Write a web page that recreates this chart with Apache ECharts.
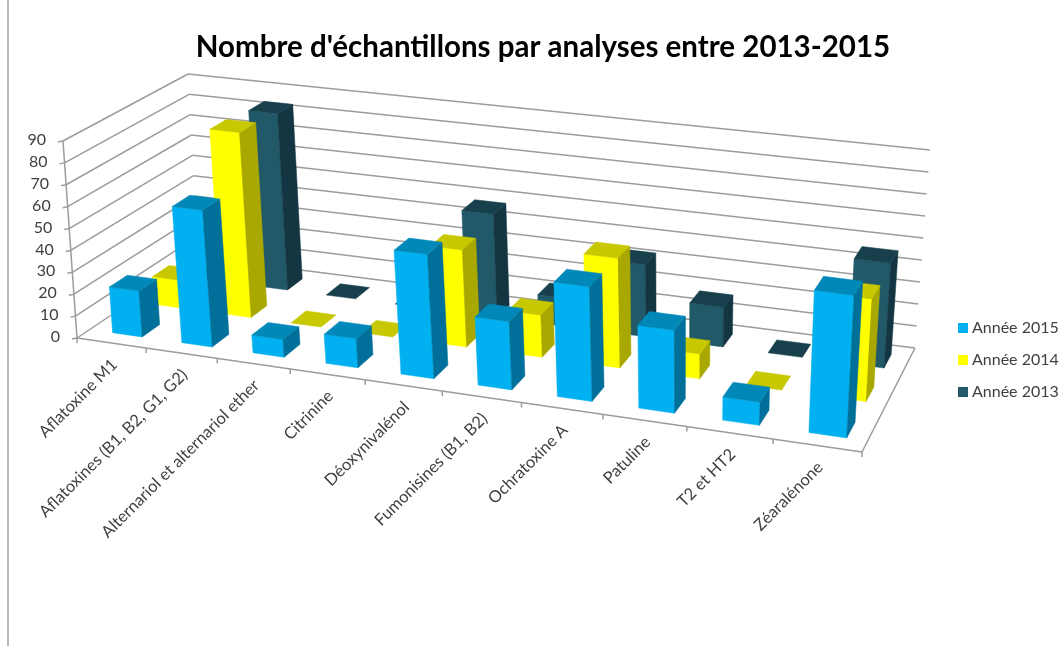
<!DOCTYPE html>
<html>
<head>
<meta charset="utf-8">
<title>Nombre d'échantillons</title>
<script src="https://cdn.jsdelivr.net/npm/echarts@6/dist/echarts.min.js"></script>
<style>
  html, body { margin: 0; padding: 0; background: #fff; }
  #chart { width: 1064px; height: 646px; }
</style>
</head>
<body>
<div id="chart"></div>
<script>
var categories = ['Aflatoxine M1', 'Aflatoxines (B1, B2, G1, G2)', 'Alternariol et alternariol ether', 'Citrinine', 'Déoxynivalénol', 'Fumonisines (B1, B2)', 'Ochratoxine A', 'Patuline', 'T2 et HT2', 'Zéaralénone'];
var annee2015 = [21, 62, 8, 13, 55, 30, 50, 36, 10, 61];
var annee2014 = [13, 86, 0, 0, 44, 19, 49, 11, 0, 45];
var annee2013 = [0, 84, 0, 0, 48, 13, 33, 18, 0, 47];
var yTicks = [0, 10, 20, 30, 40, 50, 60, 70, 80, 90];

var FONT = 'Lato, "Open Sans", sans-serif';
var GRID_COLOR = '#9c9c9c';

// coins de la boite 3D : avant-gauche, avant-droit, arriere-droit, arriere-gauche
var floorQuad = [[77, 338], [862, 452], [915, 348], [198, 257]];
var topQuad = [[63, 141], [874, 240], [930, 150], [188, 74]];

// carre unite vers quadrilatere
function makeHomography(q) {
  var dx1 = q[1][0] - q[2][0], dx2 = q[3][0] - q[2][0], sx = q[0][0] - q[1][0] + q[2][0] - q[3][0];
  var dy1 = q[1][1] - q[2][1], dy2 = q[3][1] - q[2][1], sy = q[0][1] - q[1][1] + q[2][1] - q[3][1];
  var det = dx1 * dy2 - dx2 * dy1;
  var g = (sx * dy2 - dx2 * sy) / det;
  var h = (dx1 * sy - sx * dy1) / det;
  var a = q[1][0] - q[0][0] + g * q[1][0];
  var b = q[3][0] - q[0][0] + h * q[3][0];
  var d = q[1][1] - q[0][1] + g * q[1][1];
  var e = q[3][1] - q[0][1] + h * q[3][1];
  return function (u, w) {
    var k = g * u + h * w + 1;
    return [(a * u + b * w + q[0][0]) / k, (d * u + e * w + q[0][1]) / k];
  };
}
var floorH = makeHomography(floorQuad);
var topH = makeHomography(topQuad);

// u, w, v entre 0 et 1
function project(u, w, v) {
  var f = floorH(u, w), t = topH(u, w);
  return [f[0] + (t[0] - f[0]) * v, f[1] + (t[1] - f[1]) * v];
}

// passe par les axes de la grille pour obtenir u et v
function toUnit(params, api, catIndex, value, bandOffset) {
  var sys = params.coordSys;
  var pt = api.coord([catIndex, value]);
  var band = api.size([1, 0])[0];
  return {
    u: (pt[0] + bandOffset * band - sys.x) / sys.width,
    v: (sys.y + sys.height - pt[1]) / sys.height
  };
}

function poly(points, color) {
  return { type: 'polygon', shape: { points: points }, style: { fill: color, stroke: color, lineWidth: 0.5 } };
}
function line(a, b, color, width) {
  return { type: 'line', shape: { x1: a[0], y1: a[1], x2: b[0], y2: b[1] }, style: { stroke: color || GRID_COLOR, lineWidth: width || 1.5 } };
}

var BAR_W = 0.43, BAR_D = 0.42, BAR_SHIFT = 0.05;

function barRenderer(row, front, top, side) {
  return function (params, api) {
    var i = api.value(0), val = api.value(1);
    var a = toUnit(params, api, i, val, BAR_SHIFT - BAR_W / 2);
    var b = toUnit(params, api, i, val, BAR_SHIFT + BAR_W / 2);
    var w0 = (row + (1 - BAR_D) / 2) / 3, w1 = w0 + BAR_D / 3;
    var u0 = a.u, u1 = b.u, v = a.v;
    var kids = [];
    if (val > 0) {
      kids.push(poly([project(u0, w0, 0), project(u1, w0, 0), project(u1, w0, v), project(u0, w0, v)], front));
      kids.push(poly([project(u1, w0, 0), project(u1, w1, 0), project(u1, w1, v), project(u1, w0, v)], side));
    }
    kids.push(poly([project(u0, w0, v), project(u1, w0, v), project(u1, w1, v), project(u0, w1, v)], top));
    return { type: 'group', children: kids };
  };
}

function wallRenderer(params, api) {
  var val = api.value(1);
  var p = toUnit(params, api, 0, val, -0.5);
  var a = project(0, 0, p.v), b = project(0, 1, p.v), c = project(1, 1, p.v);
  var kids = [line(a, b), line(b, c), line([a[0] - 5, a[1] + 1], a)];
  kids.push({
    type: 'text', x: a[0] - 17, y: a[1] - 1,
    style: { text: String(val), align: 'right', verticalAlign: 'middle', font: '16px ' + FONT, fill: '#404040' }
  });
  if (val === 0) {
    kids.push(line(project(0, 0, 0), project(1, 0, 0)));
    kids.push(line(project(1, 0, 0), project(1, 1, 0)));
    kids.push(line(project(0, 0, 0), project(0, 0, 1)));
    var n = categories.length;
    for (var k = 0; k <= n; k++) {
      var t = project(k / n, 0, 0);
      kids.push(line(t, [t[0], t[1] + 5]));
    }
  }
  return { type: 'group', children: kids };
}

function labelRenderer(params, api) {
  var i = api.value(0);
  var p = toUnit(params, api, i, 0, 0);
  var pt = project(p.u, 0, 0);
  return {
    type: 'text', x: pt[0] + 3, y: pt[1] + 19, rotation: Math.PI / 4,
    style: { text: categories[i], align: 'right', verticalAlign: 'middle', font: '16.5px ' + FONT, fill: '#404040' }
  };
}

function barData(values) {
  return values.map(function (v, i) { return [i, v]; });
}

var chart = echarts.init(document.getElementById('chart'));
var option = {
  animation: false,
  backgroundColor: '#fff',
  title: {
    text: "Nombre d'échantillons par analyses entre 2013-2015",
    left: 538, top: 27, textAlign: 'center',
    textStyle: { fontFamily: FONT, fontWeight: 'bold', fontSize: 29.5, color: '#000' }
  },
  legend: {
    data: ['Année 2015', 'Année 2014', 'Année 2013'],
    orient: 'vertical', left: 953, top: 315,
    icon: 'rect', itemWidth: 10, itemHeight: 10, itemGap: 16,
    textStyle: { fontFamily: FONT, fontSize: 16, color: '#404040', padding: [0, 0, 0, -1] }
  },
  grid: { left: 77, top: 141, width: 785, height: 196 },
  xAxis: { type: 'category', data: categories, show: false },
  yAxis: { type: 'value', min: 0, max: 90, interval: 10, show: false },
  graphic: [
    { type: 'line', shape: { x1: 8, y1: 0, x2: 8, y2: 646 }, style: { stroke: '#a0a0a0', lineWidth: 1.5 } }
  ],
  series: [
    { name: 'murs', type: 'custom', silent: true, renderItem: wallRenderer, data: yTicks.map(function (v) { return [0, v]; }) },
    { name: 'etiquettes', type: 'custom', silent: true, renderItem: labelRenderer, data: categories.map(function (c, i) { return [i, 0]; }) },
    { name: 'Année 2013', type: 'custom', itemStyle: { color: '#215968' }, renderItem: barRenderer(2, '#215968', '#17404c', '#133642'), data: barData(annee2013) },
    { name: 'Année 2014', type: 'custom', itemStyle: { color: '#ffff00' }, renderItem: barRenderer(1, '#ffff00', '#c8c800', '#a8a800'), data: barData(annee2014) },
    { name: 'Année 2015', type: 'custom', itemStyle: { color: '#00b0f0' }, renderItem: barRenderer(0, '#00b0f0', '#0088b8', '#006f9a'), data: barData(annee2015) }
  ]
};
chart.setOption(option);
</script>
</body>
</html>
